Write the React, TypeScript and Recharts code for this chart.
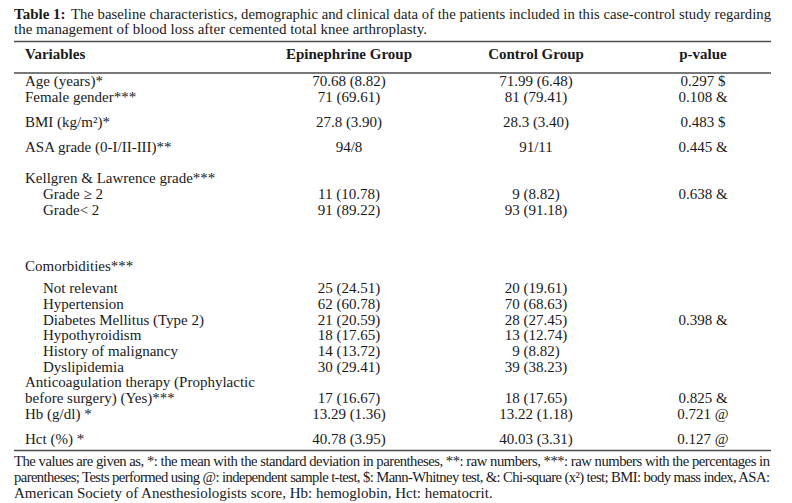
import { Surface, Layer, Text } from 'recharts';

// table content
const headers = ['Variables', 'Epinephrine Group', 'Control Group', 'p-value'];

const variables = [
    'Age (years)*',
    'Female gender***',
    'BMI (kg/m²)*',
    'ASA grade (0-I/II-III)**',
    'Kellgren & Lawrence grade***',
    'Grade ≥ 2',
    'Grade< 2',
    'Comorbidities***',
    'Not relevant',
    'Hypertension',
    'Diabetes Mellitus (Type 2)',
    'Hypothyroidism',
    'History of malignancy',
    'Dyslipidemia',
    'Anticoagulation therapy (Prophylactic',
    'before surgery) (Yes)***',
    'Hb (g/dl) *',
    'Hct (%) *',
];

const epinephrine = [
    '70.68 (8.82)', '71 (69.61)', '27.8 (3.90)', '94/8', '', '11 (10.78)', '91 (89.22)', '',
    '25 (24.51)', '62 (60.78)', '21 (20.59)', '18 (17.65)', '14 (13.72)', '30 (29.41)', '',
    '17 (16.67)', '13.29 (1.36)', '40.78 (3.95)',
];

const control = [
    '71.99 (6.48)', '81 (79.41)', '28.3 (3.40)', '91/11', '', '9 (8.82)', '93 (91.18)', '',
    '20 (19.61)', '70 (68.63)', '28 (27.45)', '13 (12.74)', '9 (8.82)', '39 (38.23)', '',
    '18 (17.65)', '13.22 (1.18)', '40.03 (3.31)',
];

const pValues = [
    '0.297 $', '0.108 &', '0.483 $', '0.445 &', '', '0.638 &', '', '',
    '', '', '0.398 &', '', '', '', '',
    '0.825 &', '0.721 @', '0.127 @',
];

const subRows = [5, 6, 8, 9, 10, 11, 12, 13];

const titleBold = 'Table 1:';
const titleLines = [
    'The baseline characteristics, demographic and clinical data of the patients included in this case-control study regarding',
    'the management of blood loss after cemented total knee arthroplasty.',
];

const footnotes = [
    'The values are given as, *: the mean with the standard deviation in parentheses, **: raw numbers, ***: raw numbers with the percentages in',
    'parentheses; Tests performed using @: independent sample t-test, $: Mann-Whitney test, &: Chi-square (x²) test; BMI: body mass index, ASA:',
    'American Society of Anesthesiologists score, Hb: hemoglobin, Hct: hematocrit.',
];

// layout
const W = 792;
const H = 503;
const rowBaseline = [86, 102, 127, 152, 183, 199, 215, 271, 293, 309, 325, 340, 356, 372, 387, 403, 419, 444];
const colX = [25, 349, 536, 703];
const FONT = '"Liberation Serif", "Times New Roman", serif';
const INK = '#1a1a1a';
const RULE = '#4d4d4d';

export default function App() {
    return (
        <div style={{ position: 'absolute', left: 0, top: 0, width: W, height: H, background: '#fff' }}>
            <Surface width={W} height={H}>
                <Layer>
                    <text x={14} y={19} fontFamily={FONT} fontSize={15} fontWeight="bold" fill={INK}>
                        {titleBold}
                    </text>
                    <text x={71} y={19} fontFamily={FONT} fontSize={14.7} fill={INK} textLength={700} lengthAdjust="spacing">
                        {titleLines[0]}
                    </text>
                    <text x={14} y={34} fontFamily={FONT} fontSize={15} fill={INK}>
                        {titleLines[1]}
                    </text>
                </Layer>

                <line x1={14} x2={771} y1={41.5} y2={41.5} stroke={RULE} strokeWidth={1.5} />
                <line x1={14} x2={771} y1={73} y2={73} stroke={RULE} strokeWidth={1.5} />
                <line x1={14} x2={771} y1={450.5} y2={450.5} stroke={RULE} strokeWidth={1.5} />

                <Layer>
                    {headers.map((h, i) => (
                        <Text
                            key={h}
                            x={colX[i]}
                            y={59}
                            textAnchor={i === 0 ? 'start' : 'middle'}
                            fontFamily={FONT}
                            fontSize={15}
                            fontWeight="bold"
                            fill={INK}
                        >
                            {h}
                        </Text>
                    ))}
                </Layer>

                <Layer>
                    {variables.map((v, i) => (
                        <g key={i}>
                            <Text
                                x={subRows.includes(i) ? colX[0] + 18 : colX[0]}
                                y={rowBaseline[i]}
                                fontFamily={FONT}
                                fontSize={15}
                                fill={INK}
                            >
                                {v}
                            </Text>
                            {[epinephrine[i], control[i], pValues[i]].map((c, j) =>
                                c ? (
                                    <Text
                                        key={j}
                                        x={colX[j + 1]}
                                        y={rowBaseline[i]}
                                        textAnchor="middle"
                                        fontFamily={FONT}
                                        fontSize={15}
                                        fill={INK}
                                    >
                                        {c}
                                    </Text>
                                ) : null
                            )}
                        </g>
                    ))}
                </Layer>

                <Layer>
                    {footnotes.map((f, i) => (
                        <text
                            key={i}
                            x={14}
                            y={466 + i * 16}
                            fontFamily={FONT}
                            fontSize={i < 2 ? 14.7 : 15}
                            fill={INK}
                            textLength={i < 2 ? 756 : undefined}
                            lengthAdjust="spacing"
                        >
                            {f}
                        </text>
                    ))}
                </Layer>
            </Surface>
        </div>
    );
}
